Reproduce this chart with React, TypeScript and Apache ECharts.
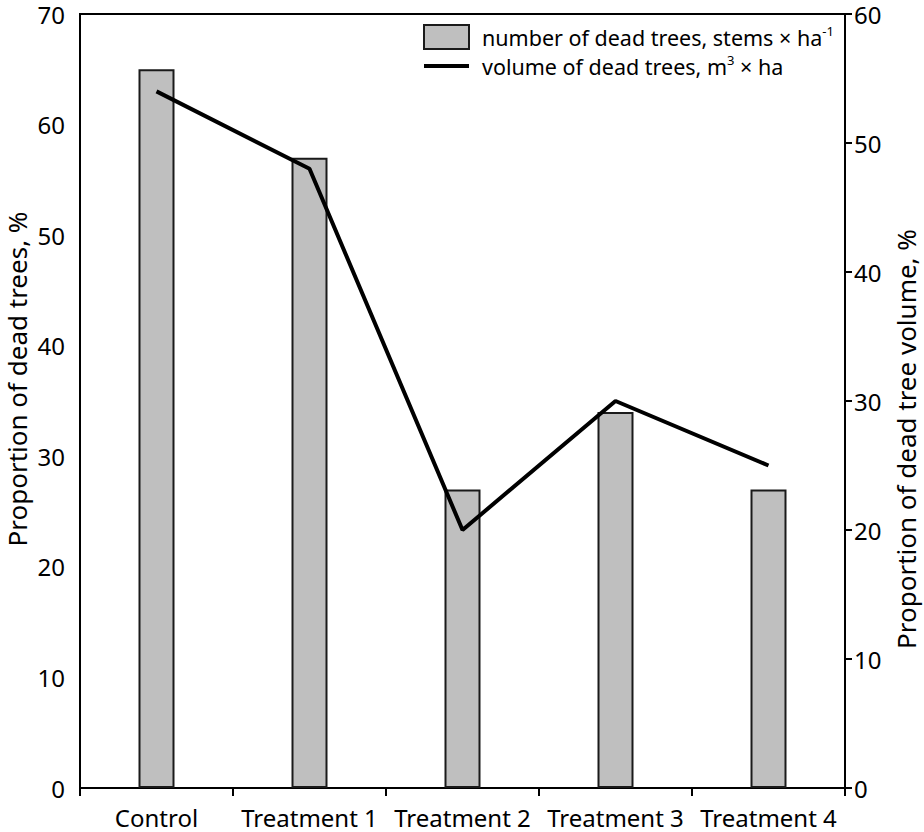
import React, { useEffect, useRef } from "react";
import * as echarts from "echarts";

const categories = ["Control", "Treatment 1", "Treatment 2", "Treatment 3", "Treatment 4"];
const deadTreesPct = [65, 57, 27, 34, 27];
const deadVolumePct = [54, 48, 20, 30, 25];
const leftTicks = { min: 0, max: 70, interval: 10 };
const rightTicks = { min: 0, max: 60, interval: 10 };

const FONT = '"Noto Sans", "Open Sans", sans-serif';

export default function App() {
  const ref = useRef<HTMLDivElement>(null);
  useEffect(() => {
    document.body.style.margin = "0";
    if (!ref.current) return;
    const chart = echarts.init(ref.current, null, { renderer: "svg" });
    chart.setOption({
      animation: false,
      backgroundColor: "#fff",
      textStyle: { fontFamily: FONT },
      grid: {
        left: 80,
        right: 79,
        top: 14,
        bottom: 44,
        show: true,
        borderColor: "#000",
        borderWidth: 2,
        backgroundColor: "transparent",
      },
      legend: {
        orient: "vertical",
        left: 423,
        top: 24,
        padding: 0,
        itemWidth: 45,
        itemHeight: 24,
        itemGap: 3,
        selectedMode: false,
        data: [
          { name: "number of dead trees", icon: "rect" },
          {
            name: "volume of dead trees",
            icon: "path://M0,0 L45,0 L45,4 L0,4 Z",
            itemStyle: { color: "#000", borderWidth: 0 },
          },
        ],
        formatter: (name: string) =>
          name === "number of dead trees"
            ? "{a|number of dead trees, stems × ha}{s|-1}"
            : "{a|volume of dead trees, m}{s|3}{b| × ha}",
        textStyle: {
          fontFamily: FONT,
          fontSize: 21.5,
          color: "#000",
          rich: {
            a: { fontFamily: FONT, fontSize: 21.5, color: "#000", lineHeight: 26, padding: [0, 0, 0, 8] },
            b: { fontFamily: FONT, fontSize: 21.5, color: "#000", lineHeight: 26 },
            s: { fontFamily: FONT, fontSize: 13, color: "#000", lineHeight: 14, verticalAlign: "top" },
          },
        },
      },
      xAxis: {
        type: "category",
        data: categories,
        boundaryGap: true,
        axisLine: { show: true, lineStyle: { color: "#000", width: 2 } },
        axisTick: { show: true, alignWithLabel: false, length: 8, lineStyle: { color: "#000", width: 2 } },
        axisLabel: {
          color: "#000",
          fontSize: 24,
          fontFamily: FONT,
          margin: 16,
          lineHeight: 26,
          interval: 0,
          hideOverlap: false,
        },
        splitLine: { show: false },
      },
      yAxis: [
        {
          type: "value",
          min: leftTicks.min,
          max: leftTicks.max,
          interval: leftTicks.interval,
          position: "left",
          axisLine: { show: true, lineStyle: { color: "#000", width: 2 } },
          axisTick: { show: false },
          axisLabel: { color: "#000", fontSize: 24, fontFamily: FONT, margin: 15, lineHeight: 24 },
          splitLine: { show: false },
        },
        {
          type: "value",
          min: rightTicks.min,
          max: rightTicks.max,
          interval: rightTicks.interval,
          position: "right",
          axisLine: { show: true, lineStyle: { color: "#000", width: 2 } },
          axisTick: { show: true, length: 7, inside: false, lineStyle: { color: "#000", width: 2 } },
          axisLabel: { color: "#000", fontSize: 24, fontFamily: FONT, margin: 9, lineHeight: 24 },
          splitLine: { show: false },
        },
      ],
      series: [
        {
          name: "number of dead trees",
          type: "bar",
          data: deadTreesPct,
          yAxisIndex: 0,
          barWidth: 36,
          itemStyle: { color: "#bfbfbf", borderColor: "#1a1a1a", borderWidth: 2 },
        },
        {
          name: "volume of dead trees",
          type: "line",
          data: deadVolumePct,
          yAxisIndex: 1,
          symbol: "none",
          showSymbol: false,
          lineStyle: { color: "#000", width: 4 },
          itemStyle: { color: "#000" },
        },
      ],
      graphic: [
        {
          type: "text",
          x: 17,
          y: 379,
          rotation: Math.PI / 2,
          style: {
            text: "Proportion of dead trees, %",
            fontSize: 26,
            fontFamily: FONT,
            fill: "#000",
            align: "center",
            verticalAlign: "middle",
          },
        },
        {
          type: "text",
          x: 906,
          y: 439,
          rotation: Math.PI / 2,
          style: {
            text: "Proportion of dead tree volume, %",
            fontSize: 26,
            fontFamily: FONT,
            fill: "#000",
            align: "center",
            verticalAlign: "middle",
          },
        },
      ],
    });
    return () => chart.dispose();
  }, []);
  return <div ref={ref} style={{ width: 924, height: 832 }} />;
}
